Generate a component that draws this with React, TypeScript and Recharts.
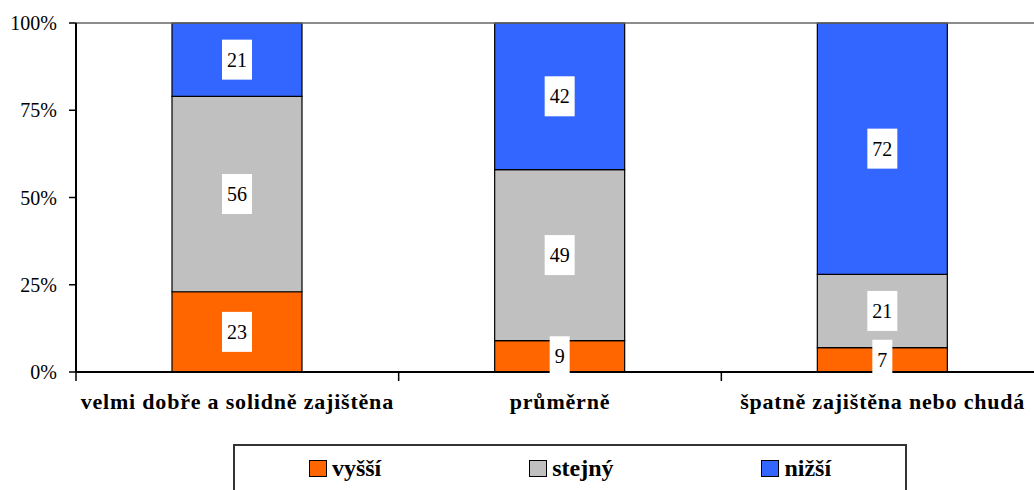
import React from "react";
import { BarChart, Bar, XAxis, YAxis, LabelList, ReferenceLine, Legend } from "recharts";

// categories and shares (percent of respondents)
const categories = ["velmi dobře a solidně zajištěna", "průměrně", "špatně zajištěna nebo chudá"];
const vyssi = [23, 9, 7];
const stejny = [56, 49, 21];
const nizsi = [21, 42, 72];
const yTicks = [0, 25, 50, 75, 100];
// category boundaries at integers, category centres at halves
const xTicks = [0, 0.5, 1, 1.5, 2, 2.5, 3];

const series = [
	{ key: "vyssi", name: "vyšší", color: "#FF6600" },
	{ key: "stejny", name: "stejný", color: "#C0C0C0" },
	{ key: "nizsi", name: "nižší", color: "#3366FF" },
];

const data = categories.map((name, i) => ({
	name,
	pos: i + 0.5,
	vyssi: vyssi[i],
	stejny: stejny[i],
	nizsi: nizsi[i],
}));

const FONT = "'Liberation Serif', 'Times New Roman', serif";

const ValueLabel = (props: any) => {
	const { x, y, width, height, value } = props;
	const cx = x + width / 2;
	const cy = y + height / 2;
	const w = String(value).length * 10 + 10;
	const h = 40;
	return (
		<g>
			<rect x={cx - w / 2} y={cy - h / 2} width={w} height={h} fill="#fff" />
			<text x={cx} y={cy} textAnchor="middle" dominantBaseline="central" fontSize={20} fontFamily={FONT} fill="#000">
				{value}
			</text>
		</g>
	);
};

const CatTick = (props: any) => {
	const { x, y, payload } = props;
	const v = payload.value;
	if (Number.isInteger(v)) {
		return <line x1={x} x2={x} y1={y} y2={y + 9} stroke="#000" strokeWidth={1.5} />;
	}
	return (
		<text x={x} y={y + 37} textAnchor="middle" fontSize={22} fontWeight="bold" fontFamily={FONT} letterSpacing={0.8} fill="#000">
			{categories[Math.floor(v)]}
		</text>
	);
};

const LegendBox = () => (
	<div
		style={{
			width: 674,
			height: 60,
			boxSizing: "border-box",
			border: "2px solid #333",
			display: "flex",
			justifyContent: "space-around",
			alignItems: "flex-start",
			paddingTop: 9,
			fontFamily: FONT,
		}}
	>
		{series.map((s) => (
			<div key={s.key} style={{ display: "flex", alignItems: "center" }}>
				<span style={{ width: 16, height: 15, background: s.color, border: "1.5px solid #000", display: "inline-block", marginRight: 5 }} />
				<span style={{ fontSize: 24, fontWeight: "bold", lineHeight: "26px" }}>{s.name}</span>
			</div>
		))}
	</div>
);

export default function App() {
	return (
		<div style={{ position: "absolute", left: 0, top: 0, width: 1034, height: 490, overflow: "hidden", background: "#fff" }}>
			<BarChart width={1044} height={490} data={data} margin={{ top: 23, right: 0, left: 0, bottom: 18 }} barSize={130}>
				<XAxis
					type="number"
					dataKey="pos"
					domain={[0, 3]}
					ticks={xTicks}
					interval={0}
					tick={<CatTick />}
					tickLine={false}
					tickSize={0}
					tickMargin={0}
					height={40}
					axisLine={{ stroke: "#000", strokeWidth: 2 }}
				/>
				<YAxis
					domain={[0, 100]}
					ticks={yTicks}
					tickFormatter={(v) => `${v}%`}
					width={76}
					tickSize={7}
					tickMargin={12}
					tick={{ fontSize: 20, fontFamily: FONT, fill: "#000" }}
					axisLine={{ stroke: "#000", strokeWidth: 2 }}
					tickLine={{ stroke: "#000", strokeWidth: 1.5 }}
				/>
				<ReferenceLine y={100} stroke="#666" strokeWidth={1.5} />
				{series.map((s) => (
					<Bar key={s.key} dataKey={s.key} name={s.name} stackId="a" fill={s.color} stroke="#000" strokeWidth={1.2} isAnimationActive={false}>
						<LabelList dataKey={s.key} content={<ValueLabel />} />
					</Bar>
				))}
				<Legend content={<LegendBox />} wrapperStyle={{ position: "absolute", left: 233, top: 444, width: 674 }} />
			</BarChart>
		</div>
	);
}
